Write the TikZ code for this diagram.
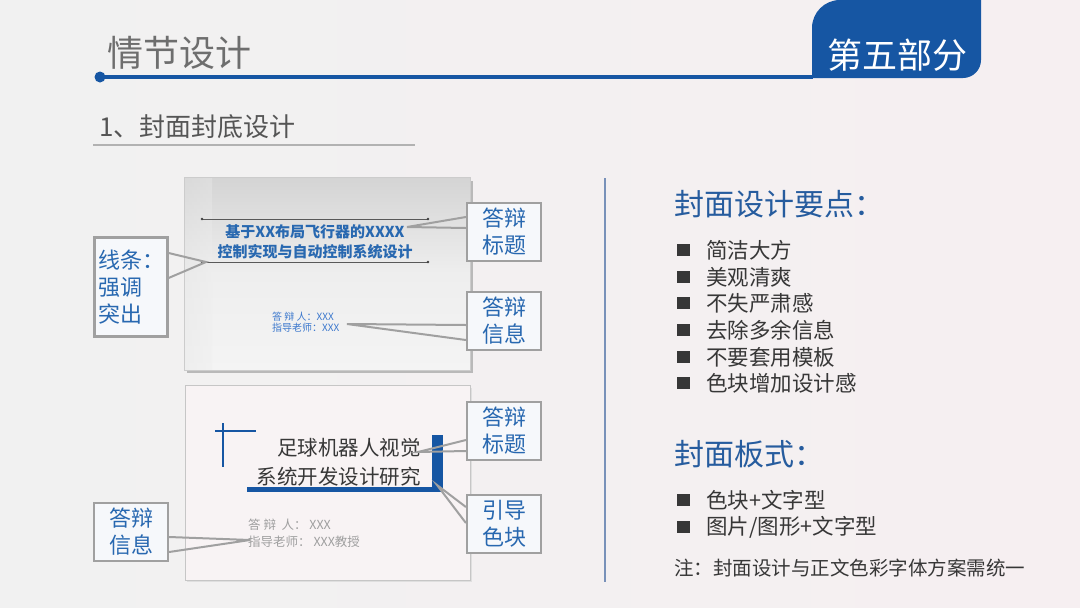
\documentclass[tikz,border=0pt]{standalone}
\usepackage{fontspec}
\setmainfont{Noto Sans CJK SC}
\usetikzlibrary{calc}
\definecolor{bgA}{RGB}{241,241,241}
\definecolor{bgB}{RGB}{246,239,241}
\definecolor{tabblue}{RGB}{22,86,163}
\definecolor{titlegray}{RGB}{110,110,110}
\definecolor{subgray}{RGB}{85,85,85}
\definecolor{calloutgray}{RGB}{160,160,160}
\definecolor{calloutfill}{RGB}{246,248,251}
\definecolor{calloutblue}{RGB}{40,104,176}
\definecolor{headblue}{RGB}{38,92,158}
\definecolor{textdark}{RGB}{55,55,55}
\definecolor{coverpink}{RGB}{248,243,244}
\definecolor{smallblue}{RGB}{60,120,205}
\definecolor{sepblue}{RGB}{120,145,185}
\begin{document}
\begin{tikzpicture}[x=1pt,y=-1pt,
  callout/.style={draw=calloutgray, line width=2.2pt, fill=calloutfill, text=calloutblue,
    font=\fontsize{22}{27}\selectfont, align=center, inner sep=0pt,
    minimum width=74pt, minimum height=58pt},
  ptr/.style={draw=calloutgray, line width=2pt},
  item/.style={anchor=west, inner sep=0pt, text=textdark, font=\fontsize{21.5}{24}\selectfont},
  heading/.style={anchor=west, inner sep=0pt, text=headblue, font=\fontsize{30}{34}\selectfont},
  bulletsq/.style={fill=textdark, draw=none, minimum size=12.5pt, inner sep=0pt}
]
\useasboundingbox (0,0) rectangle (1080,608);
% background
\shade[left color=bgA, right color=bgB, middle color=bgA!60!bgB] (0,0) rectangle (1080,608);

% header
\fill[tabblue] (812,78) -- (812,28) arc[start angle=180, end angle=270, radius=28]
  -- (981,0) -- (981,60) arc[start angle=0, end angle=90, radius=18] -- cycle;
\draw[tabblue, line width=4pt] (100,77) -- (813,77);
\fill[tabblue] (100,77) circle (5.5);
\node[anchor=west, inner sep=0pt, text=titlegray, font=\fontsize{36}{40}\selectfont] (title) at (107,53) {情节设计};
\node[inner sep=0pt, text=white, font=\fontsize{35}{40}\selectfont] (part) at (897,55) {第五部分};
\node[anchor=west, inner sep=0pt, text=subgray, font=\fontsize{26}{30}\selectfont] (sub) at (99,127) {1、封面封底设计};
\draw[gray!60, line width=1.6pt] (93,145) -- (415,145);

% separator
\draw[sepblue, line width=1.2pt] (605,178) -- (605,582);

% ---- top cover thumbnail
\fill[gray!55] (187,181) rectangle (473,373);
\shade[top color={rgb,255:red,212;green,212;blue,212}, bottom color={rgb,255:red,244;green,244;blue,244},
  middle color={rgb,255:red,238;green,238;blue,238}] (184,177) rectangle (470,370);
\shade[left color={rgb,255:red,228;green,228;blue,228}, right color={rgb,255:red,238;green,238;blue,238}, opacity=0.35] (184,177) rectangle (212,370);
\draw[gray!40, line width=0.8pt] (184,177) rectangle (470,370);
\draw[gray!70!black, line width=0.6pt] (202,219) -- (428,219);
\draw[gray!70!black, line width=0.6pt] (202,262) -- (428,262);
\foreach \p in {(202,219),(428,219),(202,262),(428,262)} \fill[gray!50!black] \p circle (1.3);
\node[inner sep=0pt, text=calloutblue, align=center, font=\bfseries\fontsize{15}{20}\selectfont] (ctitle) at (315,242)
  {基于XX布局飞行器的XXXX\\控制实现与自动控制系统设计};
\node[anchor=west, inner sep=0pt, text=smallblue, align=left, font=\fontsize{10}{11.5}\selectfont] (cinfo) at (272,322)
  {答\ 辩\ 人：XXX\\指导老师：XXX};
\coordinate (t1) at (407,227);
\coordinate (t2) at (347,324);
\coordinate (t3) at (206,262);

\node[callout] (c1) at (504,232) {答辩\\标题};
\node[callout] (c2) at (504,321) {答辩\\信息};
\node[callout, minimum width=73pt, minimum height=99pt, align=left] (c3) at (131,287) {线条：\\强调\\突出};
\draw[ptr] ($(c1.west)+(0,-15)$) -- (t1) -- ($(c1.west)+(0,-4)$);
\draw[ptr] ($(c2.west)+(0,4)$) -- (t2) -- ($(c2.west)+(0,19)$);
\draw[ptr] ($(c3.east)+(0,-34)$) -- (t3) -- ($(c3.east)+(0,-9)$);

% ---- bottom cover thumbnail
\fill[gray!25] (187,388) rectangle (472,582);
\draw[fill=coverpink, draw=gray!45, line width=0.8pt] (185,385) rectangle (470,580);
\draw[tabblue, line width=2.5pt] (223,423) -- (223,467);
\draw[tabblue, line width=2.5pt] (215,431) -- (256,431);
\fill[tabblue] (247,487) rectangle (443,492);
\fill[tabblue] (432,435) rectangle (443,492);
\node[anchor=east, inner sep=0pt, text=textdark, align=right, font=\fontsize{20.5}{29}\selectfont] (btitle) at (421,462)
  {足球机器人视觉\\系统开发设计研究};
\node[anchor=west, inner sep=0pt, text=gray!75, align=left, font=\fontsize{12.5}{17}\selectfont] (binfo) at (248,533.5)
  {答\ 辩\ \ 人：\ XXX\\指导老师：\ XXX教授};
\coordinate (t4) at (418,452);
\coordinate (t5) at (437,485);
\coordinate (t6) at (250,540);

\node[callout] (c4) at (504,431) {答辩\\标题};
\node[callout] (c5) at (504,524) {引导\\色块};
\node[callout] (c6) at (131,532) {答辩\\信息};
\draw[ptr] ($(c4.west)+(0,9)$) -- (t4) -- ($(c4.west)+(0,20)$);
\draw[ptr] ($(c5.west)+(0,-17)$) -- (t5) -- ($(c5.west)+(0,-1)$);
\draw[ptr] ($(c6.east)+(0,5)$) -- (t6) -- ($(c6.east)+(0,20)$);

% ---- right column
\node[heading] (h1) at (674,204) {封面设计要点：};
\foreach \y/\t [count=\i] in {250/简洁大方,277/美观清爽,303/不失严肃感,330/去除多余信息,357/不要套用模板,383/色块增加设计感}{
  \node[bulletsq] (b\i) at (683.5,\y) {};
  \node[item] (it\i) at (706,\y) {\t};
}
\node[heading] (h2) at (674,454) {封面板式：};
\node[bulletsq] (b7) at (683.5,500) {};
\node[item] (it7) at (706,500) {色块+文字型};
\node[bulletsq] (b8) at (683.5,527) {};
\node[item] (it8) at (706,527) {图片/图形+文字型};
\node[anchor=west, inner sep=0pt, text=textdark, font=\fontsize{19.5}{22}\selectfont] (note) at (674,568)
  {注：封面设计与正文色彩字体方案需统一};
\end{tikzpicture}
\end{document}
